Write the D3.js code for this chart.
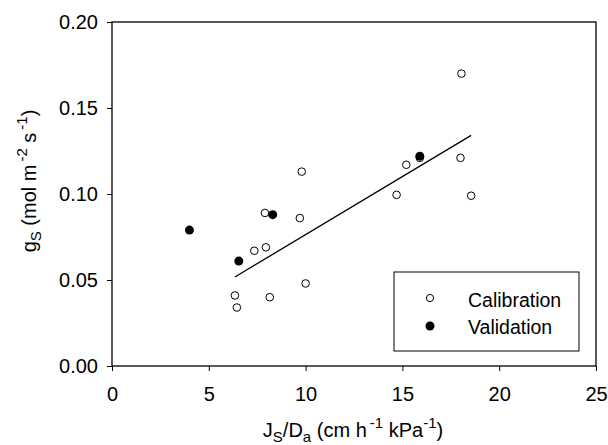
<!DOCTYPE html>
<html>
<head>
<meta charset="utf-8">
<script src="https://cdn.jsdelivr.net/npm/d3@7"></script>
<style>
  body { margin: 0; background: #fff; }
  text { font-family: "Liberation Sans", Arial, sans-serif; fill: #000; }
</style>
</head>
<body>
<script>
// chart size and plot box
var w = 608;
var h = 445;
var margin = {top: 22, right: 12, bottom: 79, left: 112};

// data
var calibX = [18.05, 18.0, 18.55, 15.2, 15.9, 14.7, 9.8, 9.7, 7.9, 7.95, 7.35, 10.0, 6.35, 8.15, 6.45];
var calibY = [0.170, 0.121, 0.099, 0.117, 0.121, 0.0995, 0.113, 0.086, 0.089, 0.069, 0.067, 0.048, 0.041, 0.040, 0.034];
var validX = [4.0, 6.55, 8.3, 15.9];
var validY = [0.079, 0.061, 0.088, 0.122];

// fitted line (calibration)
var fitSlope = 0.00675;
var fitIntercept = 0.0089;
var fitRange = [6.35, 18.55];

var xTicks = [0, 5, 10, 15, 20, 25];
var yTicks = [0, 0.05, 0.10, 0.15, 0.20];

var xScale = d3.scaleLinear()
  .domain([0, 25])
  .range([margin.left, w - margin.right]);

var yScale = d3.scaleLinear()
  .domain([0, 0.2])
  .range([h - margin.bottom, margin.top]);

var svg = d3.select("body")
  .append("svg")
  .attr("width", w)
  .attr("height", h);

// frame
svg.append("rect")
  .attr("x", xScale(0))
  .attr("y", yScale(0.2))
  .attr("width", xScale(25) - xScale(0))
  .attr("height", yScale(0) - yScale(0.2))
  .attr("fill", "none")
  .attr("stroke", "#000")
  .attr("stroke-width", 1.3);

// axes
var xAxis = d3.axisBottom(xScale).tickValues(xTicks).tickSize(5).tickPadding(16)
  .tickFormat(d3.format("d"));
var yAxis = d3.axisLeft(yScale).tickValues(yTicks).tickSize(5).tickPadding(9)
  .tickFormat(d3.format(".2f"));

svg.append("g")
  .attr("class", "x axis")
  .attr("transform", "translate(0," + yScale(0) + ")")
  .call(xAxis);

svg.append("g")
  .attr("class", "y axis")
  .attr("transform", "translate(" + xScale(0) + ",0)")
  .call(yAxis);

svg.selectAll(".axis .domain").remove();
svg.selectAll(".axis line").attr("stroke", "#000");
svg.selectAll(".axis text")
  .style("font-family", "'Liberation Sans', Arial, sans-serif")
  .style("font-size", "20px")
  .attr("fill", "#000");

// regression line
svg.append("line")
  .attr("x1", xScale(fitRange[0]))
  .attr("y1", yScale(fitIntercept + fitSlope * fitRange[0]))
  .attr("x2", xScale(fitRange[1]))
  .attr("y2", yScale(fitIntercept + fitSlope * fitRange[1]))
  .attr("stroke", "#000")
  .attr("stroke-width", 1.3);

// calibration points (open)
svg.selectAll("circle.calib")
  .data(d3.range(calibX.length))
  .enter()
  .append("circle")
  .attr("class", "calib")
  .attr("cx", function(i) { return xScale(calibX[i]); })
  .attr("cy", function(i) { return yScale(calibY[i]); })
  .attr("r", 3.8)
  .attr("fill", "#fff")
  .attr("stroke", "#000")
  .attr("stroke-width", 1);

// validation points (filled)
svg.selectAll("circle.valid")
  .data(d3.range(validX.length))
  .enter()
  .append("circle")
  .attr("class", "valid")
  .attr("cx", function(i) { return xScale(validX[i]); })
  .attr("cy", function(i) { return yScale(validY[i]); })
  .attr("r", 4.5)
  .attr("fill", "#000");

// legend
var lg = svg.append("g");
lg.append("rect")
  .attr("x", 394).attr("y", 272)
  .attr("width", 185).attr("height", 79)
  .attr("fill", "#fff")
  .attr("stroke", "#000")
  .attr("stroke-width", 1);
lg.append("circle").attr("cx", 430).attr("cy", 298).attr("r", 3.6)
  .attr("fill", "#fff").attr("stroke", "#000");
lg.append("circle").attr("cx", 430).attr("cy", 326).attr("r", 4.5)
  .attr("fill", "#000");
lg.append("text").attr("x", 468).attr("y", 307).style("font-size", "19.5px").text("Calibration");
lg.append("text").attr("x", 468).attr("y", 334).style("font-size", "19.5px").text("Validation");

// axis titles
var xt = svg.append("text")
  .attr("x", 353).attr("y", 437)
  .attr("text-anchor", "middle")
  .style("font-size", "20px");
xt.append("tspan").text("J");
xt.append("tspan").attr("dy", 5).style("font-size", "15px").text("S");
xt.append("tspan").attr("dy", -5).text("/D");
xt.append("tspan").attr("dy", 5).style("font-size", "15px").text("a");
xt.append("tspan").attr("dy", -5).text(" (cm h");
xt.append("tspan").attr("dx", 3).attr("dy", -9).style("font-size", "15px").text("-1");
xt.append("tspan").attr("dy", 9).text(" kPa");
xt.append("tspan").attr("dy", -9).style("font-size", "15px").text("-1");
xt.append("tspan").attr("dy", 9).text(")");

var yt = svg.append("text")
  .attr("transform", "translate(36,181) rotate(-90)")
  .attr("text-anchor", "middle")
  .style("font-size", "20px");
yt.append("tspan").text("g");
yt.append("tspan").attr("dy", 5).style("font-size", "15px").text("S");
yt.append("tspan").attr("dy", -5).text(" (mol m");
yt.append("tspan").attr("dx", 3).attr("dy", -9).style("font-size", "15px").text("-2");
yt.append("tspan").attr("dy", 9).text(" s");
yt.append("tspan").attr("dx", 3).attr("dy", -9).style("font-size", "15px").text("-1");
yt.append("tspan").attr("dy", 9).text(")");
</script>
</body>
</html>
